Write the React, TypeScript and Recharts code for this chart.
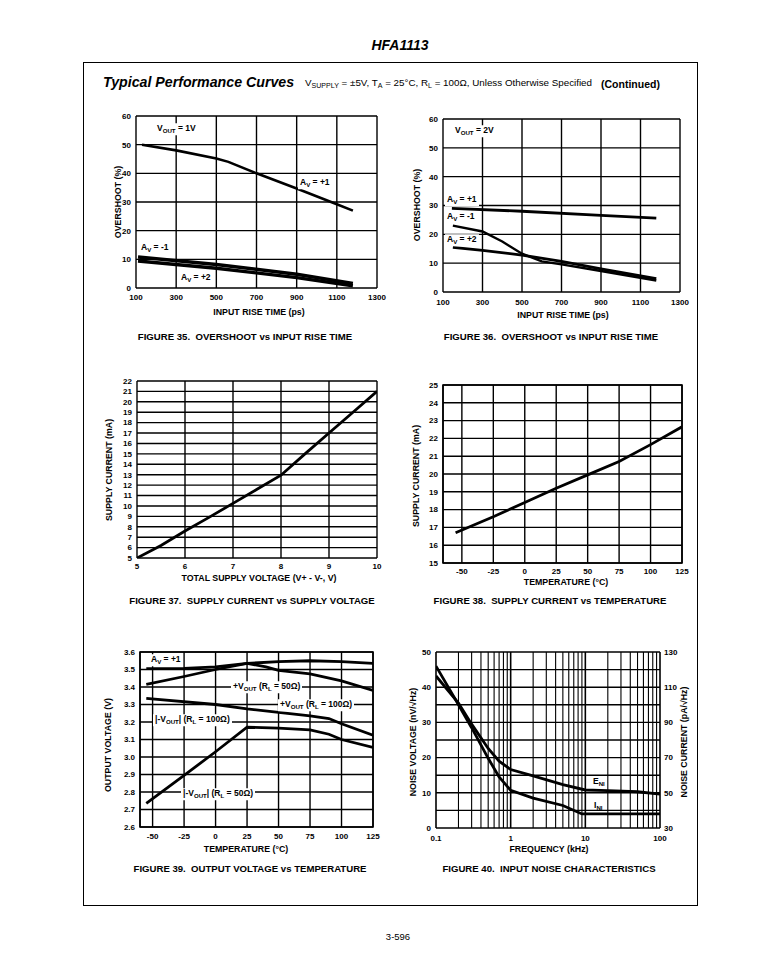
import React from 'react';
import {
  LineChart,
  Line,
  XAxis,
  YAxis,
  CartesianGrid,
  ReferenceLine,
  ReferenceArea,
} from 'recharts';

const FONT = '"Liberation Sans", Arial, Helvetica, sans-serif';
const INK = '#000';

// Fig 35 / 36: overshoot vs input rise time
const riseTicks = [100, 300, 500, 700, 900, 1100, 1300];
const overshootTicks = [0, 10, 20, 30, 40, 50, 60];

const f35AvPlus1 = [
  { t: 130, os: 50 }, { t: 300, os: 48 }, { t: 500, os: 45.2 }, { t: 560, os: 44 },
  { t: 700, os: 40 }, { t: 900, os: 34.7 }, { t: 1100, os: 29.2 }, { t: 1180, os: 27 },
];
const f35AvMinus1 = [
  { t: 110, os: 10.8 }, { t: 500, os: 8.2 }, { t: 900, os: 4.8 }, { t: 1180, os: 1.6 },
];
const f35AvPlus2 = [
  { t: 110, os: 9.4 }, { t: 500, os: 6.9 }, { t: 900, os: 3.6 }, { t: 1180, os: 0.8 },
];

const f36AvPlus1 = [
  { t: 145, os: 29 }, { t: 500, os: 28 }, { t: 900, os: 26.6 }, { t: 1180, os: 25.6 },
];
const f36AvMinus1 = [
  { t: 150, os: 23 }, { t: 300, os: 21 }, { t: 400, os: 17.5 }, { t: 500, os: 13.3 },
  { t: 600, os: 10.6 }, { t: 700, os: 9.6 }, { t: 900, os: 7.3 }, { t: 1180, os: 4 },
];
const f36AvPlus2 = [
  { t: 150, os: 15.5 }, { t: 300, os: 14.4 }, { t: 500, os: 12.8 }, { t: 700, os: 10.6 },
  { t: 900, os: 8 }, { t: 1180, os: 4.6 },
];

// Fig 37: supply current vs supply voltage
const supplyVoltTicks = [5, 6, 7, 8, 9, 10];
const f37CurrentTicks = [5, 6, 7, 8, 9, 10, 11, 12, 13, 14, 15, 16, 17, 18, 19, 20, 21, 22];
const f37Current = [
  { v: 5, i: 5 }, { v: 5.5, i: 6.2 }, { v: 6, i: 7.6 }, { v: 6.5, i: 8.9 }, { v: 7, i: 10.25 },
  { v: 7.5, i: 11.6 }, { v: 8, i: 12.95 }, { v: 8.5, i: 15 }, { v: 9, i: 17 }, { v: 9.5, i: 19 },
  { v: 10, i: 21 },
];

// Fig 38: supply current vs temperature
const tempTicks = [-50, -25, 0, 25, 50, 75, 100, 125];
const f38CurrentTicks = [15, 16, 17, 18, 19, 20, 21, 22, 23, 24, 25];
const f38Current = [
  { c: -55, i: 16.7 }, { c: -25, i: 17.6 }, { c: 0, i: 18.4 }, { c: 25, i: 19.2 },
  { c: 50, i: 19.95 }, { c: 75, i: 20.7 }, { c: 100, i: 21.65 }, { c: 125, i: 22.65 },
];

// Fig 39: output voltage vs temperature
const voutTicks = [2.6, 2.7, 2.8, 2.9, 3.0, 3.1, 3.2, 3.3, 3.4, 3.5, 3.6];
const f39PosVout50 = [
  { c: -55, v: 3.505 }, { c: -25, v: 3.507 }, { c: 0, v: 3.515 }, { c: 25, v: 3.535 },
  { c: 50, v: 3.545 }, { c: 75, v: 3.55 }, { c: 100, v: 3.545 }, { c: 125, v: 3.535 },
];
const f39PosVout100 = [
  { c: -55, v: 3.415 }, { c: -25, v: 3.46 }, { c: 0, v: 3.5 }, { c: 25, v: 3.535 },
  { c: 40, v: 3.515 }, { c: 50, v: 3.495 }, { c: 75, v: 3.475 }, { c: 100, v: 3.435 },
  { c: 125, v: 3.38 },
];
const f39NegVout100 = [
  { c: -55, v: 3.335 }, { c: 0, v: 3.3 }, { c: 25, v: 3.275 }, { c: 50, v: 3.255 },
  { c: 75, v: 3.235 }, { c: 90, v: 3.22 }, { c: 100, v: 3.19 }, { c: 125, v: 3.125 },
];
const f39NegVout50 = [
  { c: -55, v: 2.735 }, { c: -25, v: 2.895 }, { c: 0, v: 3.03 }, { c: 25, v: 3.17 },
  { c: 50, v: 3.165 }, { c: 75, v: 3.155 }, { c: 90, v: 3.13 }, { c: 100, v: 3.1 },
  { c: 125, v: 3.055 },
];

// Fig 40: input noise
const freqTicks = [0.1, 1, 10, 100];
const freqGrid = [
  0.2, 0.3, 0.4, 0.5, 0.6, 0.7, 0.8, 0.9,
  2, 3, 4, 5, 6, 7, 8, 9,
  20, 30, 40, 50, 60, 70, 80, 90,
];
const noiseVTicks = [0, 10, 20, 30, 40, 50];
const noiseVGrid = [5, 15, 25, 35, 45];
const noiseITicks = [30, 50, 70, 90, 110, 130];
const f40Eni = [
  { f: 0.1, v: 43.2 }, { f: 0.2, v: 35.5 }, { f: 0.3, v: 29.5 }, { f: 0.5, v: 22.6 },
  { f: 0.7, v: 19 }, { f: 1, v: 16.6 }, { f: 2, v: 14.8 }, { f: 5, v: 12.3 },
  { f: 10, v: 10.8 }, { f: 20, v: 10.6 }, { f: 50, v: 10.3 }, { f: 100, v: 9.6 },
];
const f40Ini = [
  { f: 0.1, i: 122 }, { f: 0.2, i: 100 }, { f: 0.3, i: 87 }, { f: 0.5, i: 69.6 },
  { f: 0.7, i: 59 }, { f: 1, i: 51.4 }, { f: 2, i: 47 }, { f: 5, i: 42.8 },
  { f: 9, i: 38 }, { f: 100, i: 38 },
];

type Box = { x: number; y: number; w: number; h: number };
const PL = 40;
const PR = 34;
const PT = 8;
const PB = 30;

const tickStyle = { fontSize: 8, fontWeight: 700, fill: INK, fontFamily: FONT };
const lineBase = {
  type: 'linear' as const,
  stroke: INK,
  dot: false,
  activeDot: false,
  isAnimationActive: false,
};

function Plot({ box, right = false, children }: { box: Box; right?: boolean; children: React.ReactNode }) {
  return (
    <div style={{ position: 'absolute', left: box.x - PL, top: box.y - PT }}>
      <LineChart
        width={box.w + PL + PR}
        height={box.h + PT + PB}
        margin={{ top: PT, right: right ? 0 : PR, bottom: 0, left: 0 }}
      >
        {children}
      </LineChart>
    </div>
  );
}

function T({ x, y, size = 8.5, bold = true, italic = false, align = 'left', rotate = false, bg = false, children }: any) {
  const tx = align === 'center' ? '-50%' : align === 'right' ? '-100%' : '0';
  return (
    <div
      style={{
        position: 'absolute',
        left: x,
        top: y,
        transform: rotate ? 'translate(-50%,-50%) rotate(-90deg)' : `translate(${tx},-50%)`,
        fontFamily: FONT,
        fontSize: size,
        fontWeight: bold ? 700 : 400,
        fontStyle: italic ? 'italic' : 'normal',
        whiteSpace: 'nowrap',
        lineHeight: 1,
        color: INK,
        background: bg ? '#fff' : 'transparent',
        padding: bg ? '1px 2px 2px 2px' : 0,
        margin: bg ? '0 -2px' : 0,
      }}
    >
      {children}
    </div>
  );
}

const S = ({ children }: any) => (
  <span style={{ fontSize: '0.72em', position: 'relative', top: '0.3em' }}>{children}</span>
);

const box35: Box = { x: 136, y: 116, w: 241, h: 172 };
const box36: Box = { x: 443, y: 119, w: 237, h: 173 };
const box37: Box = { x: 137, y: 381, w: 240, h: 177 };
const box38: Box = { x: 443, y: 385, w: 239, h: 178 };
const box39: Box = { x: 140, y: 652, w: 233, h: 175 };
const box40: Box = { x: 436, y: 652, w: 224, h: 176 };

const AXT = 8.8; // axis title size
const CAP = 9.6; // figure caption size

export default function App() {
  const xAx = (key: string, domain: number[], ticks: number[], margin: number, extra: any = {}) => (
    <XAxis
      dataKey={key}
      type="number"
      domain={domain}
      ticks={ticks}
      interval={0}
      allowDataOverflow
      height={PB}
      tickLine={false}
      axisLine={false}
      tickSize={0}
      tickMargin={margin}
      tick={tickStyle}
      {...extra}
    />
  );
  const yAx = (domain: number[], ticks: number[], extra: any = {}) => (
    <YAxis
      type="number"
      domain={domain}
      ticks={ticks}
      interval={0}
      allowDataOverflow
      width={PL}
      tickLine={false}
      axisLine={false}
      tickSize={0}
      tickMargin={5}
      tick={tickStyle}
      {...extra}
    />
  );
  const grid = <CartesianGrid stroke={INK} strokeWidth={1.4} />;

  return (
    <div style={{ position: 'absolute', left: 0, top: 0, width: 784, height: 973, background: '#fff', overflow: 'hidden' }}>
      <T x={400} y={45} size={14} italic align="center">HFA1113</T>
      <div style={{ position: 'absolute', left: 83, top: 62, width: 613, height: 842, border: '1.5px solid #000' }} />

      <T x={103} y={82} size={14.2} italic>Typical Performance Curves</T>
      <T x={305} y={83} size={9.8} bold={false}>
        V<S>SUPPLY</S> = ±5V, T<S>A</S> = 25°C, R<S>L</S> = 100Ω, Unless Otherwise Specified
      </T>
      <T x={601} y={84} size={10.5}>(Continued)</T>

      {/* Figure 35 */}
      <Plot box={box35}>
        {grid}
        {xAx('t', [100, 1300], riseTicks, 6)}
        {yAx([0, 60], overshootTicks)}
        <Line {...lineBase} data={f35AvPlus1} dataKey="os" strokeWidth={2.6} />
        <Line {...lineBase} data={f35AvMinus1} dataKey="os" strokeWidth={3.4} />
        <Line {...lineBase} data={f35AvPlus2} dataKey="os" strokeWidth={3.4} />
      </Plot>
      <T x={118} y={202} size={AXT} rotate>OVERSHOOT (%)</T>
      <T x={259} y={312} size={AXT} align="center">INPUT RISE TIME (ps)</T>
      <T x={157} y={129} bg>V<S>OUT</S> = 1V</T>
      <T x={300} y={183} bg>A<S>V</S> = +1</T>
      <T x={141} y={248} bg>A<S>V</S> = -1</T>
      <T x={181} y={278} bg>A<S>V</S> = +2</T>
      <T x={245} y={337} size={CAP} align="center">FIGURE 35.&nbsp; OVERSHOOT vs INPUT RISE TIME</T>

      {/* Figure 36 */}
      <Plot box={box36}>
        {grid}
        {xAx('t', [100, 1300], riseTicks, 7)}
        {yAx([0, 60], overshootTicks)}
        <Line {...lineBase} data={f36AvPlus1} dataKey="os" strokeWidth={2.8} />
        <Line {...lineBase} data={f36AvMinus1} dataKey="os" strokeWidth={2.4} />
        <Line {...lineBase} data={f36AvPlus2} dataKey="os" strokeWidth={2.8} />
      </Plot>
      <T x={417} y={205} size={AXT} rotate>OVERSHOOT (%)</T>
      <T x={563} y={315} size={AXT} align="center">INPUT RISE TIME (ps)</T>
      <T x={455} y={131} bg>V<S>OUT</S> = 2V</T>
      <T x={447} y={200} bg>A<S>V</S> = +1</T>
      <T x={447} y={217} bg>A<S>V</S> = -1</T>
      <T x={447} y={240} bg>A<S>V</S> = +2</T>
      <T x={551} y={337} size={CAP} align="center">FIGURE 36.&nbsp; OVERSHOOT vs INPUT RISE TIME</T>

      {/* Figure 37 */}
      <Plot box={box37}>
        {grid}
        {xAx('v', [5, 10], supplyVoltTicks, 5)}
        {yAx([5, 22], f37CurrentTicks)}
        <Line {...lineBase} data={f37Current} dataKey="i" strokeWidth={2.8} />
      </Plot>
      <T x={109} y={470} size={AXT} rotate>SUPPLY CURRENT (mA)</T>
      <T x={259} y={578} size={AXT} align="center">TOTAL SUPPLY VOLTAGE (V+ - V-, V)</T>
      <T x={252} y={601} size={CAP} align="center">FIGURE 37.&nbsp; SUPPLY CURRENT vs SUPPLY VOLTAGE</T>

      {/* Figure 38 */}
      <Plot box={box38}>
        {grid}
        {xAx('c', [-65, 125], tempTicks, 5)}
        {yAx([15, 25], f38CurrentTicks)}
        <ReferenceArea x1={-65} x2={125} y1={15} y2={25} fill="none" stroke={INK} strokeWidth={1.6} ifOverflow="visible" />
        <Line {...lineBase} data={f38Current} dataKey="i" strokeWidth={2.8} />
      </Plot>
      <T x={416} y={476} size={AXT} rotate>SUPPLY CURRENT (mA)</T>
      <T x={566} y={582} size={AXT} align="center">TEMPERATURE (°C)</T>
      <T x={550} y={601} size={CAP} align="center">FIGURE 38.&nbsp; SUPPLY CURRENT vs TEMPERATURE</T>

      {/* Figure 39 */}
      <Plot box={box39}>
        {grid}
        {xAx('c', [-60, 125], tempTicks, 6)}
        {yAx([2.6, 3.6], voutTicks, { tickFormatter: (v: number) => v.toFixed(1) })}
        <ReferenceArea x1={-60} x2={125} y1={2.6} y2={3.6} fill="none" stroke={INK} strokeWidth={1.6} ifOverflow="visible" />
        <Line {...lineBase} data={f39PosVout50} dataKey="v" strokeWidth={2.8} />
        <Line {...lineBase} data={f39PosVout100} dataKey="v" strokeWidth={2.8} />
        <Line {...lineBase} data={f39NegVout100} dataKey="v" strokeWidth={2.8} />
        <Line {...lineBase} data={f39NegVout50} dataKey="v" strokeWidth={2.8} />
      </Plot>
      <T x={108} y={745} size={AXT} rotate>OUTPUT VOLTAGE (V)</T>
      <T x={246} y={849} size={AXT} align="center">TEMPERATURE (°C)</T>
      <T x={151} y={660} bg>A<S>V</S> = +1</T>
      <T x={233} y={687} bg>+V<S>OUT</S> (R<S>L</S> = 50Ω)</T>
      <T x={280} y={705} bg>+V<S>OUT</S> (R<S>L</S> = 100Ω)</T>
      <T x={155} y={720} bg>|-V<S>OUT</S>| (R<S>L</S> = 100Ω)</T>
      <T x={183} y={794} bg>|-V<S>OUT</S>| (R<S>L</S> = 50Ω)</T>
      {/* leader arrows drawn above the label backgrounds */}
      <div style={{ position: 'absolute', left: box39.x - PL, top: box39.y - PT, pointerEvents: 'none' }}>
        <LineChart
          width={box39.w + PL + PR}
          height={box39.h + PT + PB}
          margin={{ top: PT, right: PR, bottom: 0, left: 0 }}
        >
          <XAxis dataKey="c" type="number" domain={[-60, 125]} height={PB} hide />
          <YAxis type="number" domain={[2.6, 3.6]} width={PL} hide />
          <ReferenceLine segment={[{ x: 60.4, y: 3.414 }, { x: 70.2, y: 3.539 }]} stroke={INK} strokeWidth={1.2} />
          <ReferenceLine segment={[{ x: 94, y: 3.357 }, { x: 92.4, y: 3.429 }]} stroke={INK} strokeWidth={1.2} />
        </LineChart>
      </div>
      <T x={250} y={869} size={CAP} align="center">FIGURE 39.&nbsp; OUTPUT VOLTAGE vs TEMPERATURE</T>

      {/* Figure 40 */}
      <Plot box={box40} right>
        {xAx('f', [0.1, 100], freqTicks, 7, { scale: 'log', tickFormatter: (v: number) => String(v) })}
        {yAx([0, 50], noiseVTicks, { yAxisId: 'v' })}
        <YAxis
          yAxisId="i"
          orientation="right"
          type="number"
          domain={[30, 130]}
          ticks={noiseITicks}
          interval={0}
          allowDataOverflow
          width={PR}
          tickLine={false}
          axisLine={false}
          tickSize={0}
          tickMargin={4}
          tick={tickStyle}
        />
        {noiseVTicks.concat(noiseVGrid).map((v) => (
          <ReferenceLine key={'h' + v} yAxisId="v" y={v} stroke={INK} strokeWidth={1.4} />
        ))}
        {freqTicks.map((f) => (
          <ReferenceLine key={'d' + f} yAxisId="v" x={f} stroke={INK} strokeWidth={1.6} />
        ))}
        {freqGrid.map((f) => (
          <ReferenceLine key={'g' + f} yAxisId="v" x={f} stroke={INK} strokeWidth={1.1} />
        ))}
        <Line {...lineBase} yAxisId="v" data={f40Eni} dataKey="v" strokeWidth={2.8} />
        <Line {...lineBase} yAxisId="i" data={f40Ini} dataKey="i" strokeWidth={2.8} />
      </Plot>
      <T x={413} y={742} size={AXT} rotate>NOISE VOLTAGE (nV/√Hz)</T>
      <T x={684} y={742} size={AXT} rotate>NOISE CURRENT (pA/√Hz)</T>
      <T x={549} y={849} size={AXT} align="center">FREQUENCY (kHz)</T>
      <T x={593} y={781}>E<S>NI</S></T>
      <T x={594} y={805}>I<S>NI</S></T>
      <T x={549} y={869} size={CAP} align="center">FIGURE 40.&nbsp; INPUT NOISE CHARACTERISTICS</T>

      <T x={398} y={937} size={9.5} bold={false} align="center">3-596</T>
    </div>
  );
}
